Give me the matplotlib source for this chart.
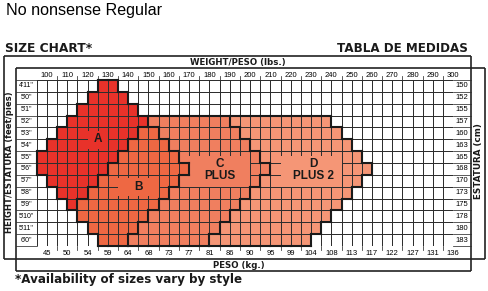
import numpy as np
import matplotlib.pyplot as plt
from matplotlib.colors import ListedColormap
from matplotlib.collections import LineCollection
from matplotlib.patches import Rectangle

plt.rcParams['font.family'] = 'Liberation Sans'

heights_ft = ["4'11\"", "5'0\"", "5'1\"", "5'2\"", "5'3\"", "5'4\"", "5'5\"",
              "5'6\"", "5'7\"", "5'8\"", "5'9\"", "5'10\"", "5'11\"", "6'0\""]
heights_cm = [150, 152, 155, 157, 160, 163, 165, 168, 170, 173, 175, 178, 180, 183]
weights_lbs = list(range(100, 301, 10))
weights_kg = [45, 50, 54, 59, 64, 68, 73, 77, 81, 86, 90, 95, 99, 104, 108,
              113, 117, 122, 127, 131, 136]

# weight span (lbs) of each size, one entry per height row starting at *_first
a_first = 0
a_from = [125, 120, 115, 110, 105, 100, 95, 95, 100, 105, 110]
a_to = [135, 140, 145, 150, 145, 140, 135, 130, 125, 120, 115]
b_first = 4
b_from = [145, 140, 135, 130, 125, 120, 115, 115, 120, 125]
b_to = [160, 165, 170, 175, 170, 165, 160, 155, 150, 145]
c_first = 3
c_from = [150, 155, 160, 165, 170, 165, 160, 155, 150, 145, 140]
c_to = [190, 195, 200, 205, 210, 205, 200, 195, 190, 185, 180]
d_first = 3
d_from = [190, 195, 200, 205, 210, 205, 200, 195, 190, 185, 180]
d_to = [240, 245, 250, 255, 260, 255, 250, 245, 240, 235, 230]

size_names = ['A', 'B', 'C\nPLUS', 'D\nPLUS 2']
size_colors = ['#e8322a', '#ee6843', '#f07f5f', '#f59676']
# label centre (lbs, row) and the plain box behind it (lbs from/to, row from/to)
label_pos = [(125, 5.0), (145, 9.0), (185, 7.6), (231, 7.6)]
label_box = [(120, 130, 4.3, 5.8), (135, 155, 8.3, 9.8), (170, 200, 6.4, 9.0), (215, 245, 6.4, 9.0)]

W, H = 488, 291
fig = plt.figure(figsize=(W / 100, H / 100), dpi=100)

# page-level frame and headings, in pixel units
bg = fig.add_axes([0, 0, 1, 1])
bg.set_xlim(0, W)
bg.set_ylim(H, 0)
bg.axis('off')

frame = [((3.5, 56), (471, 56)), ((3.5, 56), (3.5, 259)), ((471, 56), (471, 271)),
         ((16, 68), (485, 68)), ((16, 68), (16, 271)), ((3.5, 259), (485, 259)),
         ((16, 271), (471, 271)), ((485, 68), (485, 259))]
bg.add_collection(LineCollection(frame, colors='#222222', linewidths=1.2))

bg.text(6.5, 10, 'No nonsense Regular', fontsize=11.6, va='center', ha='left')
bold = dict(family='DejaVu Sans', fontweight='bold', color='#1a1a1a')
bg.text(5, 49, 'SIZE CHART*', fontsize=8.8, va='center', ha='left', **bold)
bg.text(468, 49, 'TABLA DE MEDIDAS', fontsize=8.6, va='center', ha='right', **bold)
bg.text(238, 62.5, 'WEIGHT/PESO (lbs.)', fontsize=6.2, va='center', ha='center', **bold)
bg.text(238.5, 265, 'PESO (kg.)', fontsize=6.2, va='center', ha='center', **bold)
bg.text(9.8, 162, 'HEIGHT/ESTATURA (feet/pies)', fontsize=6.1, rotation=90,
        va='center', ha='center', **bold)
bg.text(478.5, 161, 'ESTATURA (cm)', fontsize=6.3, rotation=90,
        va='center', ha='center', **bold)
bg.text(15, 280, '*Availability of sizes vary by style', fontsize=8.6,
        va='center', ha='left', **bold)

# grid of cells
gx0, gx1, gy0, gy1 = 36.7, 453.3, 80.0, 246.0
ax = fig.add_axes([gx0 / W, 1 - gy1 / H, (gx1 - gx0) / W, (gy1 - gy0) / H])
n_rows = len(heights_ft)
edges_x = np.arange(95, 301, 5)
centers = edges_x[:-1] + 2.5
grid = np.zeros((n_rows, len(centers)), dtype=int)
sizes = [(a_first, a_from, a_to), (b_first, b_from, b_to),
         (c_first, c_from, c_to), (d_first, d_from, d_to)]
for code, (first, lo, hi) in enumerate(sizes, start=1):
    for i, (f, t) in enumerate(zip(lo, hi)):
        grid[first + i, (centers > f) & (centers < t)] = code

cmap = ListedColormap(['white'] + size_colors)
ax.pcolormesh(edges_x, np.arange(n_rows + 1), grid, cmap=cmap, vmin=-0.5, vmax=4.5,
              edgecolors='#2e2e2e', linewidth=0.55, zorder=1)
ax.set_xlim(95, 300)
ax.set_ylim(n_rows, 0)
ax.axis('off')

# plain boxes behind size names
for (x0, x1, y0, y1), col in zip(label_box, size_colors):
    ax.add_patch(Rectangle((x0, y0), x1 - x0, y1 - y0, facecolor=col,
                           edgecolor='none', zorder=2))

# heavy outline wherever neighbouring cells belong to different sizes
pad = np.pad(grid, 1)
segs = []
for r in range(n_rows + 1):
    for c in range(len(centers) + 1):
        here = pad[r + 1, c + 1] if (r < n_rows and c < len(centers)) else 0
        if r < n_rows and here != pad[r + 1, c] and (here or pad[r + 1, c]):
            segs.append(((edges_x[c], r), (edges_x[c], r + 1)))
        if c < len(centers) and here != pad[r, c + 1] and (here or pad[r, c + 1]):
            segs.append(((edges_x[c], r), (edges_x[c + 1], r)))
ax.add_collection(LineCollection(segs, colors='#1a1a1a', linewidths=1.5,
                                 capstyle='projecting', zorder=3, clip_on=False))

for name, (x, y) in zip(size_names, label_pos):
    ax.text(x, y, name, fontsize=8.5, fontweight='bold', ha='center', va='center',
            linespacing=1.0, color='#1a1a1a', zorder=4)

# side columns: row lines and labels
yt = ax.get_yaxis_transform()
left_w = (gx0 - 16) / (gx1 - gx0)
right_w = (471 - gx1) / (gx1 - gx0)
for r in range(n_rows + 1):
    ax.plot([-left_w, 0], [r, r], color='#2e2e2e', lw=0.55, transform=yt, clip_on=False)
    ax.plot([1, 1 + right_w], [r, r], color='#2e2e2e', lw=0.55, transform=yt, clip_on=False)
for r, (ft, cm) in enumerate(zip(heights_ft, heights_cm)):
    ax.text(-left_w / 2, r + 0.5, ft, fontsize=5.0, ha='center', va='center',
            transform=yt, clip_on=False)
    ax.text(1 + right_w / 2 - 0.001, r + 0.5, str(cm), fontsize=5.5, ha='center',
            va='center', transform=yt, clip_on=False)

# weight scales above and below
for lb, kg in zip(weights_lbs, weights_kg):
    ax.text(lb, -0.42, str(lb), fontsize=5.5, ha='center', va='center', clip_on=False)
    ax.text(lb, n_rows + 0.63, str(kg), fontsize=5.5, ha='center', va='center', clip_on=False)
for lb in range(105, 300, 10):
    ax.plot([lb, lb], [-0.33, 0], color='#2e2e2e', lw=0.55, clip_on=False)
    ax.plot([lb, lb], [n_rows, n_rows + 0.33], color='#2e2e2e', lw=0.55, clip_on=False)

fig.savefig('out.png', dpi=100)
